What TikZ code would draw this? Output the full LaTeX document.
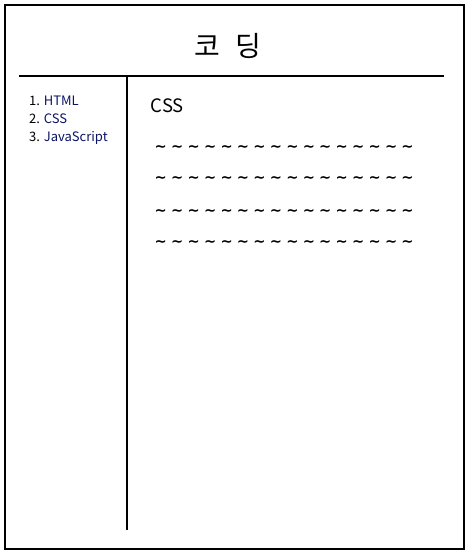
\documentclass[tikz,border=0pt]{standalone}
\usepackage{fontspec}
\setmainfont{Noto Sans CJK KR}
\newfontfamily\tildefont{DejaVu Sans}
\definecolor{linkblue}{RGB}{10,20,100}
\newcommand{\tl}{\makebox[16.45pt][l]{\char"223C}}
\newcommand{\tildeline}{\tl\tl\tl\tl\tl\tl\tl\tl\tl\tl\tl\tl\tl\tl\tl\tl}
\begin{document}
\begin{tikzpicture}[x=1pt,y=-1pt,
  frame/.style={line width=2pt, draw=black},
  listitem/.style={anchor=base west, inner sep=0pt, font=\fontsize{13}{15}\selectfont},
  tilderow/.style={anchor=base west, inner sep=0pt, font=\tildefont\bfseries\fontsize{14.5}{16}\selectfont}]
\useasboundingbox (0,0) rectangle (469,556);
\draw[frame] (5,5) rectangle (464,549);
\coordinate (hl) at (19,76.5);
\coordinate (hr) at (444,76.5);
\coordinate (vt) at (127,76.5);
\coordinate (vb) at (127,530);
\draw[frame] (hl) -- (hr);
\draw[frame] (vt) -- (vb);
\node[inner sep=0pt, font=\fontsize{28}{30}\selectfont] (title) at (228,46) {코\hspace{16pt}딩};
\node[listitem] (i1) at (29,106) {1. \textcolor{linkblue}{HTML}};
\node[listitem] (i2) at (29,124) {2. \textcolor{linkblue}{CSS}};
\node[listitem] (i3) at (29,142) {3. \textcolor{linkblue}{JavaScript}};
\node[anchor=base west, inner sep=0pt, font=\fontsize{18.5}{20}\selectfont] (css) at (150.5,113) {CSS};
\node[tilderow] (t1) at (154.5,151.5) {\tildeline};
\node[tilderow] (t2) at (154.5,182.5) {\tildeline};
\node[tilderow] (t3) at (154.5,215.5) {\tildeline};
\node[tilderow] (t4) at (154.5,246.5) {\tildeline};
\end{tikzpicture}
\end{document}
